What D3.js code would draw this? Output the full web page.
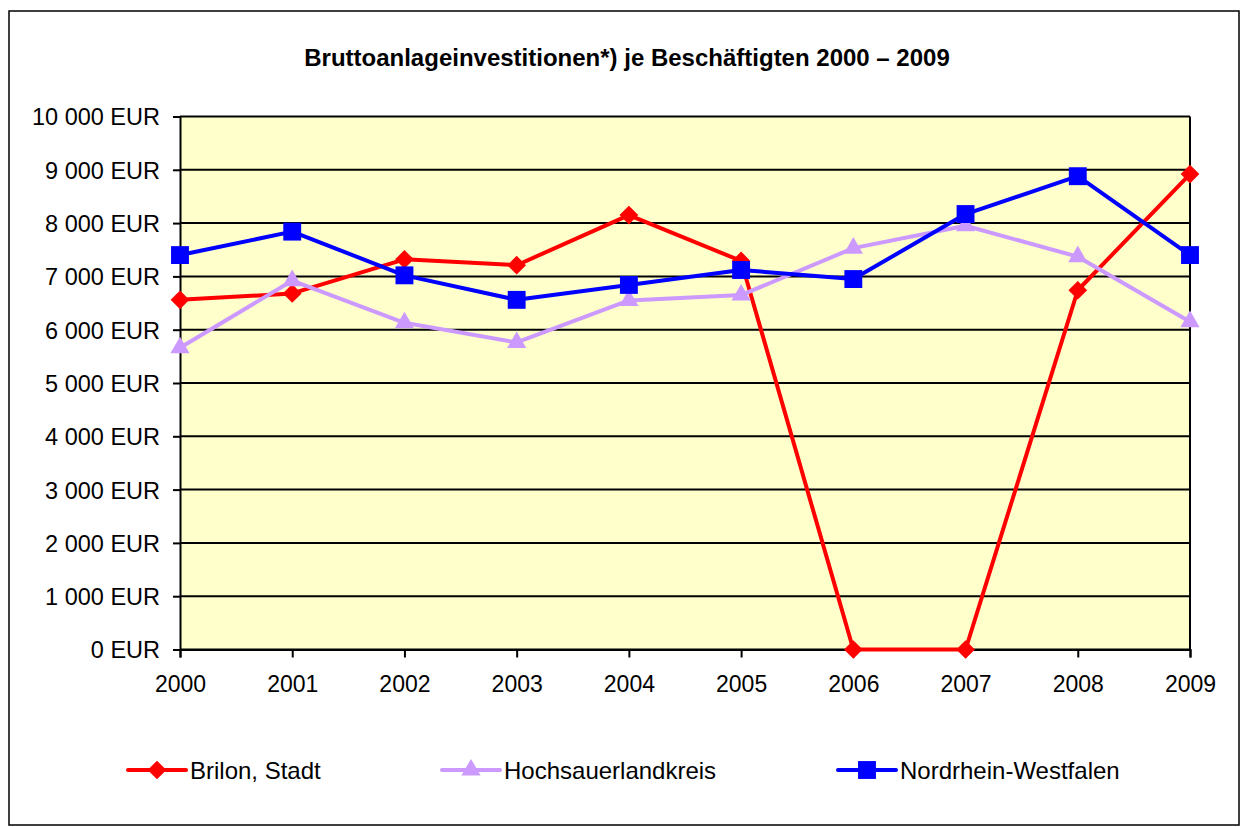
<!DOCTYPE html>
<html>
<head>
  <meta charset="utf-8">
  <title>Bruttoanlageinvestitionen je Beschäftigten</title>
  <style>
    body { margin: 0; background: #fff; }
    svg text { font-family: "Liberation Sans", Arial, sans-serif; fill: #000; }
  </style>
  <script src="https://d3js.org/d3.v7.min.js"></script>
</head>
<body>
  <div id="chart"></div>
  <script>
    // Daten
    var years = ["2000", "2001", "2002", "2003", "2004", "2005", "2006", "2007", "2008", "2009"];
    var brilon = [6560, 6680, 7320, 7210, 8150, 7290, 0, 0, 6740, 8920];
    var hochsauerland = [5660, 6920, 6130, 5760, 6550, 6650, 7530, 7950, 7370, 6150];
    var nrw = [7400, 7840, 7020, 6560, 6840, 7120, 6950, 8170, 8880, 7400];
    var yTicks = [0, 1000, 2000, 3000, 4000, 5000, 6000, 7000, 8000, 9000, 10000];

    var series = [
      {name: "Brilon, Stadt", values: brilon, color: "#ff0000", symbol: d3.symbolSquare, size: 175, rotate: 45},
      {name: "Hochsauerlandkreis", values: hochsauerland, color: "#cc99ff", symbol: d3.symbolTriangle, size: 160, rotate: 0},
      {name: "Nordrhein-Westfalen", values: nrw, color: "#0000ff", symbol: d3.symbolSquare, size: 320, rotate: 0}
    ];

    var W = 1249, H = 827;
    var plot = {left: 180, top: 116.5, right: 1190, bottom: 649.5};

    var svg = d3.select("#chart").append("svg")
        .attr("width", W)
        .attr("height", H);

    // Rahmen
    svg.append("rect")
      .attr("x", 9).attr("y", 11)
      .attr("width", 1230).attr("height", 814)
      .attr("fill", "#fff")
      .attr("stroke", "#000")
      .attr("stroke-width", 1.5);

    svg.append("text")
      .attr("x", 627).attr("y", 66)
      .attr("text-anchor", "middle")
      .attr("font-weight", "bold")
      .attr("font-size", 24)
      .text("Bruttoanlageinvestitionen*) je Beschäftigten 2000 \u2013 2009");

    var x = d3.scalePoint()
      .domain(years)
      .range([plot.left, plot.right]);

    var y = d3.scaleLinear()
      .domain([0, 10000])
      .range([plot.bottom, plot.top]);

    // Plotfläche
    svg.append("rect")
      .attr("x", plot.left).attr("y", plot.top)
      .attr("width", plot.right - plot.left)
      .attr("height", plot.bottom - plot.top)
      .attr("fill", "#ffffcc");

    // Gitterlinien
    svg.append("g")
      .selectAll("line")
      .data(yTicks)
      .join("line")
        .attr("x1", plot.left).attr("x2", plot.right)
        .attr("y1", d => y(d)).attr("y2", d => y(d))
        .attr("stroke", "#000")
        .attr("stroke-width", 2);

    svg.append("line")
      .attr("x1", plot.right).attr("x2", plot.right)
      .attr("y1", plot.top).attr("y2", plot.bottom)
      .attr("stroke", "#000").attr("stroke-width", 2);

    var fmt = function(d) {
      return d3.format(",")(d).replace(/,/g, " ") + " EUR";
    };

    var yAxis = svg.append("g")
      .attr("transform", "translate(" + plot.left + ",0)")
      .call(d3.axisLeft(y).tickValues(yTicks).tickFormat(fmt).tickSize(7).tickPadding(13));

    var xAxis = svg.append("g")
      .attr("transform", "translate(0," + plot.bottom + ")")
      .call(d3.axisBottom(x).tickSize(8).tickPadding(18));

    [xAxis, yAxis].forEach(function(g) {
      g.select(".domain").attr("stroke", "#000").attr("stroke-width", 2);
      g.selectAll(".tick line").attr("stroke", "#000").attr("stroke-width", 2);
      g.selectAll(".tick text")
        .attr("font-family", "'Liberation Sans', Arial, sans-serif")
        .attr("fill", "#000");
    });
    yAxis.selectAll(".tick text").attr("font-size", 23.5).attr("dy", "0.36em");
    xAxis.selectAll(".tick text").attr("font-size", 23);

    // Linien
    var line = d3.line()
      .x((d, i) => x(years[i]))
      .y(d => y(d));

    series.forEach(function(s) {
      var g = svg.append("g");
      g.append("path")
        .datum(s.values)
        .attr("fill", "none")
        .attr("stroke", s.color)
        .attr("stroke-width", 4)
        .attr("stroke-linejoin", "round")
        .attr("d", line);
      g.selectAll("path.marker")
        .data(s.values)
        .join("path")
          .attr("class", "marker")
          .attr("transform", (d, i) => "translate(" + x(years[i]) + "," + y(d) + ") rotate(" + s.rotate + ")")
          .attr("d", d3.symbol().type(s.symbol).size(s.size))
          .attr("fill", s.color);
    });

    // Legende
    var legendX = [128, 442, 838];
    var legendY = 770;
    series.forEach(function(s, i) {
      var g = svg.append("g")
        .attr("transform", "translate(" + legendX[i] + "," + legendY + ")");
      g.append("line")
        .attr("x1", 0).attr("x2", 58)
        .attr("stroke", s.color)
        .attr("stroke-width", 4)
        .attr("stroke-linecap", "round");
      g.append("path")
        .attr("transform", "translate(29,0) rotate(" + s.rotate + ")")
        .attr("d", d3.symbol().type(s.symbol).size(s.size))
        .attr("fill", s.color);
      g.append("text")
        .attr("x", 62)
        .attr("dy", "0.36em")
        .attr("font-size", 24)
        .text(s.name);
    });
  </script>
</body>
</html>
